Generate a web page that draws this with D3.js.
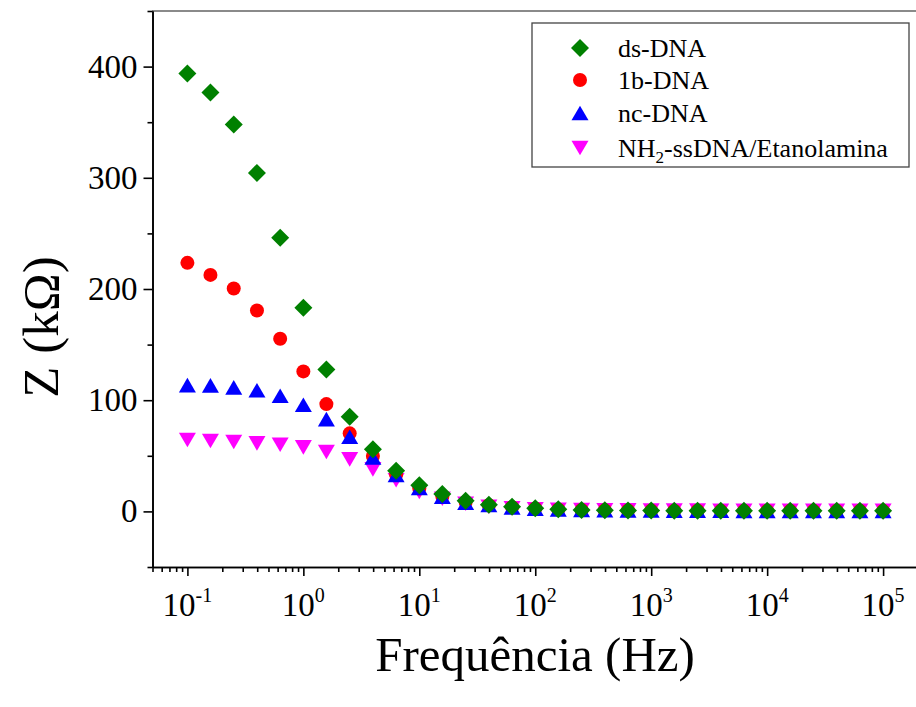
<!DOCTYPE html>
<html>
<head>
<meta charset="utf-8">
<script src="https://cdn.jsdelivr.net/npm/d3@7"></script>
<style>
  body { margin: 0; background: #fff; }
  svg { display: block; font-family: "Liberation Serif", "Times New Roman", serif; }
</style>
</head>
<body>
<div id="chart"></div>
<script>
// frequencies (Hz), 5 points per decade
const FREQ = [0.1, 0.158, 0.251, 0.398, 0.631, 1, 1.58, 2.51, 3.98, 6.31,
  10, 15.8, 25.1, 39.8, 63.1, 100, 158, 251, 398, 631,
  1000, 1580, 2510, 3980, 6310, 10000, 15800, 25100, 39800, 63100, 100000];

// Z (kOhm) per series
const DS_DNA = [393.8, 376.7, 347.9, 304.4, 246.0, 183.1, 127.7, 85.1, 55.8, 36.6,
  23.5, 15.6, 9.6, 6.0, 4.2, 2.8, 1.9, 1.3, 1.0, 0.8,
  0.7, 0.6, 0.6, 0.6, 0.5, 0.5, 0.5, 0.5, 0.5, 0.5, 0.5];
const B1_DNA = [223.5, 212.7, 200.5, 180.7, 155.2, 125.9, 96.5, 70.2, 49.8, 33.0,
  20.5, 13.5, 8.5, 5.5, 3.8, 2.6, 1.8, 1.3, 1.0, 0.8,
  0.7, 0.6, 0.6, 0.5, 0.5, 0.5, 0.5, 0.5, 0.5, 0.5, 0.5];
const NC_DNA = [113.6, 113.3, 111.5, 109.0, 104.0, 95.9, 83.0, 67.1, 48.5, 32.7,
  21.0, 13.2, 7.8, 5.8, 3.6, 2.5, 1.8, 1.4, 1.1, 0.9,
  0.8, 0.7, 0.6, 0.6, 0.5, 0.5, 0.5, 0.5, 0.5, 0.5, 0.5];
const NH2_SSDNA = [64.2, 63.3, 62.4, 61.2, 60.0, 57.6, 53.4, 46.8, 37.8, 28.0,
  17.5, 11.4, 6.9, 4.2, 2.8, 2.0, 1.5, 1.2, 1.0, 0.9,
  0.8, 0.7, 0.7, 0.6, 0.6, 0.6, 0.6, 0.6, 0.6, 0.6, 0.6];

const SERIES_NAMES = ["ds-DNA", "1b-DNA", "nc-DNA", "NH2-ssDNA/Etanolamina"];

// axis ticks
const X_TICKS = [0.1, 1, 10, 100, 1000, 10000, 100000];
const X_EXPONENTS = ["-1", "0", "1", "2", "3", "4", "5"];
const Y_TICKS = [0, 100, 200, 300, 400];
const Y_MINOR = [-50, 50, 150, 250, 350, 450];

const W = 916, H = 707;
const FONT = '"Liberation Serif", "Times New Roman", serif';

const svg = d3.select("#chart").append("svg")
  .attr("width", W).attr("height", H);

const x = d3.scaleLog().domain([0.05, 2e5]).range([152.5, 918]);
const y = d3.scaleLinear().domain([-50, 450]).range([567, 11]);

// top border (grey)
svg.append("line")
  .attr("x1", 152).attr("x2", W).attr("y1", 11).attr("y2", 11)
  .attr("stroke", "#8a8a8a").attr("stroke-width", 2);

// ---- Y axis
const yAxis = svg.append("g").attr("transform", `translate(${x.range()[0]},0)`);
yAxis.call(d3.axisLeft(y).tickValues(Y_TICKS).tickSize(9).tickPadding(6).tickSizeOuter(0));
svg.append("g").attr("transform", `translate(${x.range()[0]},0)`)
  .call(d3.axisLeft(y).tickValues(Y_MINOR).tickSize(5).tickFormat("").tickSizeOuter(0));

// ---- X axis
const xMinor = x.ticks().filter(t => !X_TICKS.some(m => Math.abs(m - t) / m < 1e-6))
  .filter(t => t >= x.domain()[0] && t <= x.domain()[1]);
const xAxis = svg.append("g").attr("transform", `translate(0,${y.range()[0]})`);
xAxis.call(d3.axisBottom(x).tickValues(X_TICKS).tickSize(9).tickFormat("").tickSizeOuter(0));
svg.append("g").attr("transform", `translate(0,${y.range()[0]})`)
  .call(d3.axisBottom(x).tickValues(xMinor).tickSize(5).tickFormat("").tickSizeOuter(0));

svg.selectAll(".domain, .tick line").attr("stroke", "#000").attr("stroke-width", 1.6);
svg.selectAll(".tick text").attr("font-family", FONT).attr("font-size", 33).attr("fill", "#000");

// power-of-ten labels
const xLab = svg.append("g").attr("font-family", FONT).attr("fill", "#000");
X_TICKS.forEach((t, i) => {
  const txt = xLab.append("text")
    .attr("x", x(t)).attr("y", 616)
    .attr("text-anchor", "middle")
    .attr("font-size", 33);
  txt.append("tspan").text("10");
  txt.append("tspan").attr("font-size", 20).attr("dy", -14).text(X_EXPONENTS[i]);
});

// axis titles
svg.append("text")
  .attr("x", 535).attr("y", 671)
  .attr("text-anchor", "middle")
  .attr("font-family", FONT).attr("font-size", 49)
  .text("Frequência (Hz)");

svg.append("text")
  .attr("transform", "translate(58,327) rotate(-90)")
  .attr("text-anchor", "middle")
  .attr("font-family", FONT).attr("font-size", 51)
  .text("Z (kΩ)");

// ---- symbols (bounding box centred on the point)
const symbolPath = {
  diamond: (s) => `M0,${-s}L${s},0L0,${s}L${-s},0Z`,
  up: () => "M0,-7.3L8.5,7.3L-8.5,7.3Z",
  down: () => "M0,7.3L8.5,-7.3L-8.5,-7.3Z"
};

const series = [
  { name: SERIES_NAMES[3], values: NH2_SSDNA, color: "#ff00ff", shape: "down" },
  { name: SERIES_NAMES[1], values: B1_DNA, color: "#ff0000", shape: "circle" },
  { name: SERIES_NAMES[2], values: NC_DNA, color: "#0000ff", shape: "up" },
  { name: SERIES_NAMES[0], values: DS_DNA, color: "#008000", shape: "diamond" }
];

function drawSymbol(g, shape, color) {
  if (shape === "circle") {
    g.append("circle").attr("r", 7).attr("fill", color);
  } else {
    g.append("path").attr("d", symbolPath[shape](9)).attr("fill", color);
  }
}

const plot = svg.append("g");
series.forEach(s => {
  const pts = plot.append("g").selectAll("g")
    .data(FREQ.map((f, i) => ({ f, v: s.values[i] })))
    .join("g")
    .attr("transform", d => `translate(${x(d.f)},${y(d.v)})`);
  pts.each(function () { drawSymbol(d3.select(this), s.shape, s.color); });
});

// ---- legend
const legend = svg.append("g");
legend.append("rect")
  .attr("x", 532).attr("y", 23).attr("width", 377).attr("height", 144)
  .attr("fill", "#fff").attr("stroke", "#444").attr("stroke-width", 1.3);

const legendOrder = [series[3], series[1], series[2], series[0]];
const rowY = [48, 80, 113, 148];
legendOrder.forEach((s, i) => {
  const g = legend.append("g").attr("transform", `translate(580,${rowY[i]})`);
  drawSymbol(g, s.shape, s.color);
  const t = legend.append("text")
    .attr("x", 618).attr("y", rowY[i] + 9)
    .attr("font-family", FONT).attr("font-size", 26).attr("fill", "#000");
  if (s.name.startsWith("NH2")) {
    t.append("tspan").text("NH");
    t.append("tspan").attr("font-size", 17).attr("dy", 6).text("2");
    t.append("tspan").attr("dy", -6).text(s.name.slice(3));
  } else {
    t.text(s.name);
  }
});
</script>
</body>
</html>
